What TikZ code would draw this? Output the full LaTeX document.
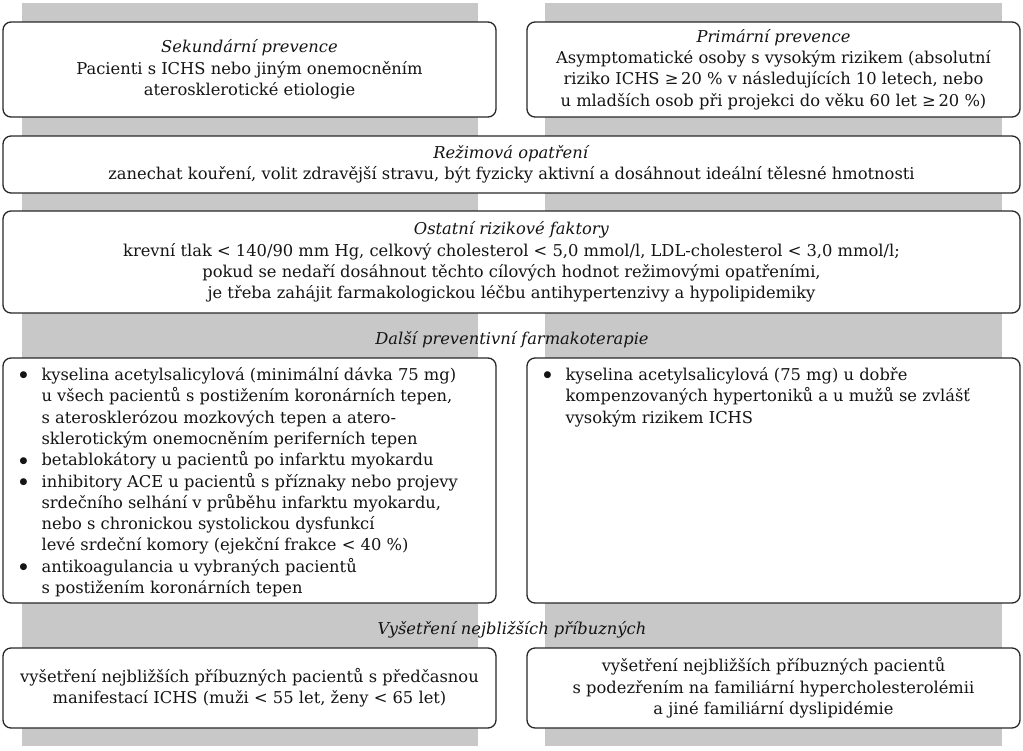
\documentclass[tikz,border=0pt]{standalone}
\usepackage{fontspec}
\setmainfont{DejaVu Serif}
\newfontfamily\symf{DejaVu Sans}
\definecolor{bggray}{RGB}{200,200,200}
\definecolor{edge}{RGB}{40,40,40}
\definecolor{ink}{RGB}{20,20,20}
\newcommand{\fs}{\fontsize{16.3}{21.3}\selectfont}
\newcommand{\bul}{\llap{\raisebox{2.6pt}{\symf\fontsize{9}{9}\selectfont ●}\hspace{14pt}}}
\tikzset{
  box/.style={draw=edge, line width=1.3pt, rounded corners=8pt, fill=white,
    inner sep=0pt, align=center, font=\fs, text=ink},
  itemtxt/.style={anchor=north west, inner sep=0pt, align=left, font=\fs, text=ink},
  heading/.style={inner sep=0pt, font=\fs\itshape, text=ink}
}
\begin{document}
\begin{tikzpicture}[x=1pt,y=-1pt]
\fill[white] (0,0) rectangle (1023,750);
\useasboundingbox (0,0) rectangle (1023,750);
\fill[bggray] (22,3) rectangle (478,746);
\fill[bggray] (545,3) rectangle (1002,746);

\node[box, minimum width=493pt, minimum height=95pt] (sek) at (249.5,69.5)
  {\textit{Sekundární prevence}\\Pacienti s ICHS nebo jiným onemocněním\\aterosklerotické etiologie};
\node[box, minimum width=493pt, minimum height=95pt] (prim) at (773.5,69.5)
  {\textit{Primární prevence}\\Asymptomatické osoby s vysokým rizikem (absolutní\\riziko ICHS ≥\,20 \% v následujících 10 letech, nebo\\u mladších osob při projekci do věku 60 let ≥\,20 \%)};
\node[box, minimum width=1017pt, minimum height=57pt] (rez) at (511.5,164.5)
  {\textit{Režimová opatření}\\zanechat kouření, volit zdravější stravu, být fyzicky aktivní a dosáhnout ideální tělesné hmotnosti};
\node[box, minimum width=1017pt, minimum height=102pt] (ost) at (511.5,262)
  {\textit{Ostatní rizikové faktory}\\krevní tlak < 140/90 mm Hg, celkový cholesterol < 5,0 mmol/l, LDL-cholesterol < 3,0 mmol/l;\\pokud se nedaří dosáhnout těchto cílových hodnot režimovými opatřeními,\\je třeba zahájit farmakologickou léčbu antihypertenzivy a hypolipidemiky};

\node[heading] (dalsi) at (512,340) {Další preventivní farmakoterapie};

\node[box, minimum width=493pt, minimum height=245pt] (farmL) at (249.5,480.5) {};
\node[box, minimum width=493pt, minimum height=245pt] (farmR) at (773.5,480.5) {};
\node[itemtxt] (farmLt) at ([xshift=39pt,yshift=-10pt]farmL.north west)
  {\bul kyselina acetylsalicylová (minimální dávka 75 mg)\\
   u všech pacientů s postižením koronárních tepen,\\
   s aterosklerózou mozkových tepen a atero-\\
   sklerotickým onemocněním periferních tepen\\
   \bul betablokátory u pacientů po infarktu myokardu\\
   \bul inhibitory ACE u pacientů s příznaky nebo projevy\\
   srdečního selhání v průběhu infarktu myokardu,\\
   nebo s chronickou systolickou dysfunkcí\\
   levé srdeční komory (ejekční frakce < 40 \%)\\
   \bul antikoagulancia u vybraných pacientů\\
   s postižením koronárních tepen};
\node[itemtxt] (farmRt) at ([xshift=39pt,yshift=-10pt]farmR.north west)
  {\bul kyselina acetylsalicylová (75 mg) u dobře\\
   kompenzovaných hypertoniků a u mužů se zvlášť\\
   vysokým rizikem ICHS};

\node[heading] (vys) at (512,630) {Vyšetření nejbližších příbuzných};

\node[box, minimum width=493pt, minimum height=80pt] (vysL) at (249.5,688)
  {vyšetření nejbližších příbuzných pacientů s předčasnou\\manifestací ICHS (muži < 55 let, ženy < 65 let)};
\node[box, minimum width=493pt, minimum height=80pt] (vysR) at (773.5,688)
  {vyšetření nejbližších příbuzných pacientů\\s podezřením na familiární hypercholesterolémii\\a jiné familiární dyslipidémie};
\end{tikzpicture}
\end{document}
